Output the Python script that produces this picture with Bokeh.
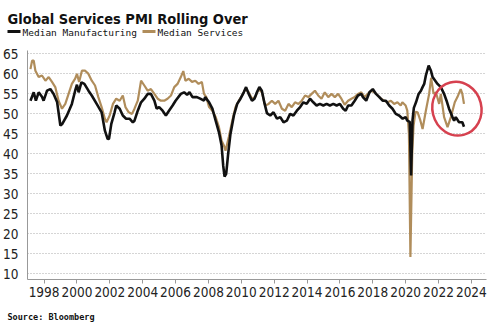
from bokeh.plotting import figure
from bokeh.layouts import column
from bokeh.models import FixedTicker, Range1d
from bokeh.core.properties import value
from bokeh.embed import file_html
from bokeh.resources import INLINE

# ---------------- data (decimal years, PMI values) ----------------
mfg_dates = [1997.17, 1997.37, 1997.50, 1997.67, 1997.87, 1997.97, 1998.18, 1998.38, 1998.58, 1998.79,
             1998.99, 1999.09, 1999.39, 1999.69, 1999.89, 2000.00, 2000.10, 2000.27, 2000.45, 2000.70,
             2000.90, 2001.20, 2001.50, 2001.70, 2001.87, 2001.95, 2002.09, 2002.29, 2002.39, 2002.60,
             2002.79, 2002.99, 2003.20, 2003.40, 2003.50, 2003.70, 2003.90, 2004.10, 2004.30, 2004.50,
             2004.71, 2004.85, 2005.00, 2005.21, 2005.41, 2005.60, 2005.82, 2006.00, 2006.32, 2006.52,
             2006.70, 2006.85, 2007.03, 2007.30, 2007.50, 2007.73, 2007.80, 2008.04, 2008.24, 2008.44,
             2008.64, 2008.80, 2008.90, 2008.98, 2009.08, 2009.20, 2009.34, 2009.55, 2009.75, 2009.95,
             2010.15, 2010.29, 2010.45, 2010.65, 2010.80, 2010.95, 2011.10, 2011.25, 2011.42, 2011.56,
             2011.76, 2011.96, 2012.17, 2012.37, 2012.57, 2012.77, 2012.97, 2013.17, 2013.38, 2013.58,
             2013.78, 2013.98, 2014.18, 2014.38, 2014.58, 2014.78, 2014.99, 2015.19, 2015.39, 2015.60,
             2015.80, 2016.00, 2016.20, 2016.35, 2016.50, 2016.70, 2016.90, 2017.10, 2017.30, 2017.40,
             2017.60, 2017.80, 2018.00, 2018.20, 2018.40, 2018.60, 2018.80, 2019.00, 2019.20, 2019.40,
             2019.60, 2019.82, 2020.00, 2020.10, 2020.25, 2020.33, 2020.42, 2020.50, 2020.63, 2020.79,
             2020.93, 2021.03, 2021.13, 2021.23, 2021.40, 2021.54, 2021.64, 2021.80, 2021.94, 2022.14,
             2022.34, 2022.49, 2022.64, 2022.85, 2022.95, 2023.05, 2023.25, 2023.45, 2023.55]
mfg_values = [53.3, 55.4, 53.3, 55.4, 54.3, 53.3, 55.8, 56.2, 55.0, 53.0,
              47.1, 47.4, 49.6, 52.5, 55.8, 57.3, 55.4, 57.9, 57.5, 55.8,
              54.6, 52.5, 50.4, 45.8, 43.7, 43.8, 47.5, 50.4, 52.1, 51.3,
              49.6, 48.8, 48.8, 47.9, 48.3, 50.8, 52.9, 53.8, 55.0, 55.0,
              53.3, 51.3, 51.7, 50.8, 49.6, 50.8, 52.1, 53.3, 55.0, 55.4,
              54.8, 55.4, 54.2, 54.2, 53.8, 53.3, 54.2, 52.9, 51.3, 48.3,
              45.4, 42.1, 37.0, 34.3, 35.0, 40.0, 45.0, 49.6, 52.5, 53.8,
              55.4, 56.7, 55.0, 53.3, 53.8, 55.4, 56.7, 55.8, 52.5, 50.2,
              49.6, 50.4, 48.8, 49.2, 47.9, 48.3, 50.0, 49.6, 50.8, 51.7,
              52.9, 52.5, 53.8, 52.9, 52.1, 52.5, 52.1, 52.5, 52.1, 52.5,
              52.1, 52.5, 51.3, 50.8, 52.1, 52.1, 53.3, 54.6, 55.0, 54.2,
              53.3, 55.4, 56.2, 55.0, 54.2, 53.3, 53.3, 52.1, 51.3, 50.0,
              49.6, 48.8, 49.2, 48.3, 48.0, 34.6, 48.5, 51.5, 52.9, 55.0,
              55.8, 56.7, 57.5, 59.6, 62.1, 60.8, 59.2, 58.3, 57.5, 56.7,
              55.0, 53.3, 51.3, 49.2, 48.3, 49.2, 47.9, 47.9, 46.8]

svc_dates = [1997.17, 1997.27, 1997.37, 1997.47, 1997.67, 1997.87, 1998.08, 1998.28, 1998.48, 1998.68,
             1998.88, 1999.09, 1999.29, 1999.49, 1999.69, 1999.89, 2000.00, 2000.13, 2000.30, 2000.50,
             2000.70, 2000.90, 2001.10, 2001.30, 2001.50, 2001.70, 2001.80, 2001.99, 2002.19, 2002.39,
             2002.60, 2002.79, 2002.95, 2003.15, 2003.35, 2003.50, 2003.70, 2003.90, 2004.10, 2004.30,
             2004.50, 2004.71, 2004.91, 2005.11, 2005.31, 2005.51, 2005.72, 2005.92, 2006.12, 2006.32,
             2006.47, 2006.60, 2006.80, 2007.00, 2007.20, 2007.40, 2007.60, 2007.73, 2007.87, 2008.04,
             2008.24, 2008.44, 2008.64, 2008.80, 2008.94, 2009.04, 2009.24, 2009.45, 2009.65, 2009.85,
             2010.05, 2010.25, 2010.45, 2010.65, 2010.85, 2011.05, 2011.25, 2011.45, 2011.66, 2011.86,
             2012.06, 2012.26, 2012.47, 2012.67, 2012.87, 2013.07, 2013.27, 2013.48, 2013.68, 2013.88,
             2014.08, 2014.28, 2014.48, 2014.68, 2014.88, 2015.08, 2015.29, 2015.49, 2015.69, 2015.89,
             2016.09, 2016.29, 2016.50, 2016.70, 2016.90, 2017.10, 2017.30, 2017.50, 2017.70, 2017.90,
             2018.10, 2018.30, 2018.50, 2018.70, 2018.90, 2019.10, 2019.30, 2019.50, 2019.70, 2019.80,
             2020.00, 2020.10, 2020.20, 2020.29, 2020.40, 2020.48, 2020.60, 2020.73, 2020.90, 2021.03,
             2021.23, 2021.43, 2021.55, 2021.70, 2021.84, 2022.04, 2022.14, 2022.34, 2022.55, 2022.75,
             2022.99, 2023.15, 2023.35, 2023.45, 2023.55]
svc_values = [61.2, 63.3, 63.3, 60.8, 59.2, 59.6, 58.3, 59.2, 58.0, 56.7,
              53.3, 51.3, 52.5, 55.0, 57.5, 58.8, 60.0, 58.0, 60.8, 60.8,
              60.0, 58.3, 57.1, 54.2, 51.7, 48.8, 47.9, 49.6, 52.5, 53.8,
              53.3, 54.6, 51.7, 50.4, 50.0, 51.3, 53.3, 58.3, 57.1, 55.8,
              56.2, 55.0, 53.8, 53.3, 53.3, 53.8, 54.6, 56.7, 57.5, 59.2,
              60.7, 58.3, 58.8, 58.0, 58.3, 57.5, 58.0, 55.0, 54.2, 51.7,
              50.8, 49.2, 46.7, 43.3, 42.1, 40.8, 44.2, 48.3, 51.7, 53.3,
              54.6, 56.2, 55.4, 53.8, 54.2, 56.2, 55.4, 52.1, 52.5, 53.3,
              52.5, 53.3, 51.3, 50.8, 52.5, 51.7, 52.9, 52.5, 53.3, 54.6,
              54.2, 55.0, 55.8, 54.6, 53.8, 55.4, 54.2, 55.0, 54.2, 55.0,
              53.8, 52.3, 53.3, 53.8, 54.2, 55.0, 55.4, 54.2, 55.0, 55.8,
              55.4, 54.6, 53.8, 53.3, 52.9, 53.3, 52.5, 52.9, 52.1, 52.9,
              52.1, 50.8, 45.0, 14.2, 40.0, 47.0, 50.5, 50.4, 48.3, 46.2,
              50.8, 55.0, 59.0, 55.0, 55.4, 52.5, 55.0, 49.2, 46.7, 49.2,
              52.9, 54.2, 56.2, 55.0, 52.5]

y_ticks = [10, 15, 20, 25, 30, 35, 40, 45, 50, 55, 60, 65]
x_ticks = [1998, 2000, 2002, 2004, 2006, 2008, 2010, 2012, 2014, 2016, 2018, 2020, 2022, 2024]

title_text = "Global Services PMI Rolling Over"
series_names = ["Median Manufacturing", "Median Services"]
source_text = "Source: Bloomberg"

# highlight circle (annotation) around the recent period
circle_x, circle_y = 2023.12, 51.3

# ---------------- styles ----------------
MFG_COLOR = "#111111"
SVC_COLOR = "#b08d5b"
RED = "#d6414f"
TICK_FONT = "Liberation Sans Narrow, DejaVu Sans Condensed, Liberation Sans"
TITLE_FONT = "DejaVu Sans Condensed, Liberation Sans Narrow, DejaVu Sans"
MONO = "DejaVu Sans Mono"
W = 500


def blank(height):
    # full-width strip whose data coordinates equal canvas pixels
    f = figure(width=W, height=height, output_backend="svg", toolbar_location=None,
               title_location=None, frame_align=False,
               x_range=Range1d(0, W), y_range=Range1d(height, 0),
               x_axis_type=None, y_axis_type=None,
               min_border_left=0, min_border_right=0,
               min_border_top=0, min_border_bottom=0)
    f.outline_line_color = None
    f.xgrid.grid_line_color = None
    f.ygrid.grid_line_color = None
    f.border_fill_color = "white"
    return f


# ---------------- header: title + legend ----------------
head = blank(46)
head.text(x=[7], y=[18], text=[title_text], text_font=value(TITLE_FONT),
          text_font_style="bold", text_font_size="14.5px", text_color="#111111",
          text_baseline="alphabetic")
legend_colors = [MFG_COLOR, SVC_COLOR]
legend_x = [7, 142]
for name, col, lx in zip(series_names, legend_colors, legend_x):
    head.line(x=[lx, lx + 13], y=[31, 31], line_color=col, line_width=3)
    head.text(x=[lx + 15], y=[31.5], text=[name], text_font=value(MONO),
              text_font_size="9.5px", text_color="#111111", text_baseline="middle")

# ---------------- main chart ----------------
p = figure(width=W, height=259, output_backend="svg", toolbar_location=None,
           frame_align=False,
           x_range=Range1d(1996.99, 2024.92), y_range=Range1d(8.6, 65.85),
           min_border_left=24, min_border_right=14, min_border_top=4, min_border_bottom=26)
p.outline_line_color = None
p.background_fill_color = "white"
p.border_fill_color = "white"

p.line(svc_dates, svc_values, line_color=SVC_COLOR, line_width=2.2)
p.line(mfg_dates, mfg_values, line_color=MFG_COLOR, line_width=2.6)

p.ellipse(x=[circle_x], y=[circle_y], width=49, height=54, width_units="screen",
          height_units="screen", angle=0.25, fill_color=None, line_color=RED, line_width=2.5)

p.xaxis.ticker = FixedTicker(ticks=x_ticks)
p.yaxis.ticker = FixedTicker(ticks=y_ticks)
for ax in (p.xaxis[0], p.yaxis[0]):
    ax.axis_line_color = "#999999"
    ax.axis_line_width = 1
    ax.major_label_text_font = TICK_FONT
    ax.major_label_text_font_size = "13.5px"
    ax.major_label_text_color = "#222222"
    ax.minor_tick_line_color = None
p.xaxis.major_tick_line_color = "#999999"
p.xaxis.major_tick_out = 4
p.xaxis.major_tick_in = 0
p.xaxis.major_label_standoff = 3
p.yaxis.major_tick_line_color = None
p.yaxis.major_label_standoff = 3

p.xgrid.grid_line_color = None
p.ygrid.grid_line_color = "#aaaaaa"
p.ygrid.grid_line_dash = "1 2"
p.ygrid.grid_line_width = 1

# ---------------- footer: source ----------------
foot = blank(22)
foot.text(x=[7], y=[11], text=[source_text], text_font=value(MONO), text_font_style="bold",
          text_font_size="8.5px", text_color="#111111", text_baseline="alphabetic")

layout = column(head, p, foot, spacing=0)
open("out.html", "w").write(file_html(layout, INLINE))
